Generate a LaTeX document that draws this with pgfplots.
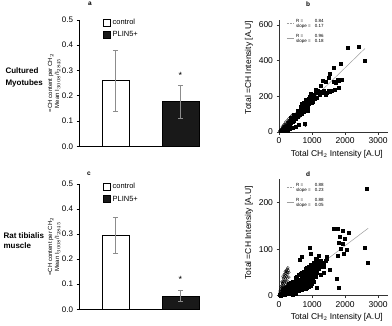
\documentclass[border=0pt]{standalone}
\usepackage{pgfplots}
\pgfplotsset{compat=1.18}
\usepackage{fontspec}
\setmainfont{Liberation Sans}
\definecolor{ebar}{gray}{0.55}
\definecolor{fitgray}{gray}{0.62}
\pgfplotsset{
  baraxis/.style={
    scale only axis, width=121pt, xmin=0, xmax=121, ymin=0, ymax=0.5,
    axis x line*=bottom, axis y line*=left, axis line style={black, line width=0.6pt},
    xtick=\empty, ytick={0,0.1,...,0.5},
    yticklabel style={font=\fontsize{8}{9}\selectfont, /pgf/number format/.cd, fixed, fixed zerofill, precision=1},
    /pgf/number format/assume math mode=true,
    tick align=outside, major tick length=2.5pt, tick style={black, line width=0.6pt},
    clip=false,
    ylabel={=CH content per CH$_2$\\Mean I$_{3008}$/I$_{2845}$},
    ylabel style={at={(axis description cs:-0.205,0.5)}, anchor=center, align=center, font=\fontsize{6}{7}\selectfont},
    legend style={draw=none, fill=none, inner sep=0pt, outer sep=0pt, font=\fontsize{7.5}{8}\selectfont, row sep=1.5pt, cells={anchor=west}},
  },
  scataxis/.style={
    scale only axis, width=109pt, xmin=0, xmax=3300, ymin=0,
    axis x line*=bottom, axis y line*=left, axis line style={black!80, line width=0.7pt},
    xtick={0,1000,2000,3000},
    ticklabel style={font=\fontsize{8.5}{9}\selectfont},
    /pgf/number format/assume math mode=true,
    /pgf/number format/1000 sep={},
    tick align=outside, major tick length=2.5pt, tick style={black!80, line width=0.6pt},
    clip=false,
    xlabel={Total CH$_2$ Intensity [A.U]},
    ylabel={Total =CH Intensity [A.U]},
    label style={font=\fontsize{8.5}{9}\selectfont},
    legend style={draw=none, fill=none, inner sep=0pt, outer sep=0pt, font=\fontsize{4.5}{5}\selectfont, row sep=3pt, cells={anchor=west}},
    legend image code/.code={\draw[#1] (0pt,0pt) -- (7pt,0pt);},
  },
  sq/.style={only marks, mark=square*, mark size=1.5pt, black, mark options={fill=black}, forget plot},
  ci/.style={only marks, mark=o, mark size=1.4pt, black, mark options={fill=white, line width=0.3pt}, forget plot},
}
\begin{document}
\begin{tikzpicture}
\path[use as bounding box] (0,0) rectangle (392pt,325pt);
% row labels and panel letters
\node[anchor=west, align=left, font=\fontsize{8}{11.5}\selectfont\bfseries] at (2pt,247.5pt) {Cultured\\Myotubes};
\node[anchor=west, align=left, font=\fontsize{8}{10}\selectfont\bfseries] at (0pt,84.3pt) {Rat tibialis\\muscle};
\node[font=\fontsize{6.5}{7}\selectfont\bfseries] at (90pt,321pt) {a};
\node[font=\fontsize{6.5}{7}\selectfont\bfseries] at (308pt,321pt) {b};
\node[font=\fontsize{6.5}{7}\selectfont\bfseries] at (89pt,151pt) {c};
\node[font=\fontsize{6.5}{7}\selectfont\bfseries] at (308pt,151pt) {d};

% ---------- panel a ----------
\begin{axis}[baraxis, at={(79pt,178.7pt)}, anchor=south west, height=126.5pt,
  legend style={at={(axis cs:24,0.51)}, anchor=north west}]
\addplot[ybar, bar width=27pt, bar shift=0pt, draw=black, fill=white, line width=0.6pt,
  legend image code/.code={\draw[black, fill=white, line width=0.6pt] (0pt,-3.5pt) rectangle (7pt,3.5pt);},
  error bars/.cd, y dir=both, y explicit, error bar style={ebar, line width=0.6pt},
  error mark options={ebar, line width=0.6pt, mark size=2.5pt, rotate=90}]
  coordinates {(36.5,0.259) +- (0,0.119)};
\addlegendentry{control}
\addplot[ybar, bar width=37pt, bar shift=0pt, draw=black, fill=black!90, line width=0.6pt,
  legend image code/.code={\draw[black, fill=black!90, line width=0.6pt] (0pt,-3.5pt) rectangle (7pt,3.5pt);},
  error bars/.cd, y dir=both, y explicit, error bar style={ebar, line width=0.6pt},
  error mark options={ebar, line width=0.6pt, mark size=2.5pt, rotate=90}]
  coordinates {(101.5,0.176) +- (0,0.065)};
\addlegendentry{PLIN5+}
\node[font=\fontsize{9}{9}\selectfont] at (axis cs:101.5,0.282) {*};
\end{axis}

% ---------- panel c ----------
\begin{axis}[baraxis, at={(79pt,15.7pt)}, anchor=south west, height=125.3pt,
  legend style={at={(axis cs:24,0.51)}, anchor=north west}]
\addplot[ybar, bar width=27pt, bar shift=0pt, draw=black, fill=white, line width=0.6pt,
  legend image code/.code={\draw[black, fill=white, line width=0.6pt] (0pt,-3.5pt) rectangle (7pt,3.5pt);},
  error bars/.cd, y dir=both, y explicit, error bar style={ebar, line width=0.6pt},
  error mark options={ebar, line width=0.6pt, mark size=2.5pt, rotate=90}]
  coordinates {(36.5,0.295) +- (0,0.073)};
\addlegendentry{control}
\addplot[ybar, bar width=37pt, bar shift=0pt, draw=black, fill=black!90, line width=0.6pt,
  legend image code/.code={\draw[black, fill=black!90, line width=0.6pt] (0pt,-3.5pt) rectangle (7pt,3.5pt);},
  error bars/.cd, y dir=both, y explicit, error bar style={ebar, line width=0.6pt},
  error mark options={ebar, line width=0.6pt, mark size=2.5pt, rotate=90}]
  coordinates {(101.5,0.053) +- (0,0.023)};
\addlegendentry{PLIN5+}
\node[font=\fontsize{9}{9}\selectfont] at (axis cs:101.5,0.121) {*};
\end{axis}

% ---------- panel b ----------
\begin{axis}[scataxis, at={(279pt,193pt)}, anchor=south west, height=112.3pt, ymax=630,
  ytick={0,200,400,600},
  ylabel style={at={(axis description cs:-0.275,0.573)}, anchor=center},
  xlabel style={at={(axis description cs:0.53,-0.196)}, anchor=center},
  legend style={at={(rel axis cs:0.07,1.02)}, anchor=north west}]
\addplot[fitgray, densely dotted, line width=0.5pt] coordinates {(0,0) (800,136)};
\addlegendentry{\begin{tabular}{@{}l@{\hspace{4pt}}l@{}}R = & 0.84\\ slope = & 0.17\end{tabular}}
\addplot[fitgray, line width=0.5pt] coordinates {(0,0) (2600,468)};
\addlegendentry{\begin{tabular}{@{}l@{\hspace{4pt}}l@{}}R = & 0.96\\ slope = & 0.18\end{tabular}}
\addplot[sq] coordinates {
(2090,474)(2400,481)(2600,400)(1860,385)(1670,363)(1550,326)(1490,307)(1320,285)(1420,283)
(1770,293)(1730,278)(1810,285)(1600,233)(1700,237)(1530,228)(1440,222)(1360,233)(1170,233)
(1240,226)(1110,219)(1220,210)(1060,212)(1000,200)(1150,190)(1080,185)(960,190)(930,175)
(990,165)(900,160)(860,170)(840,150)(880,140)(800,155)(760,145)(780,130)(720,140)(700,125)
(740,115)(660,120)(640,110)(680,100)(600,105)(620,95)(560,100)(580,85)(540,90)(520,80)
(500,75)(480,90)(460,70)(440,65)(420,75)(400,60)(380,55)(360,65)(340,50)(320,45)(300,40)
(280,50)(260,35)(240,30)(220,25)(200,20)(180,30)(160,15)(140,20)(120,10)(100,12)(80,5)
(60,8)(515,30)(773,48)(310,18)(250,8)(400,25)(200,5)(600,40)(1250,260)(1100,240)(950,215)
(820,180)(700,160)(650,140)(1020,170)(860,120)(1500,230)(1650,280)(1900,295)(1800,250)
(1400,210)(1300,220)(900,185)(1050,195)(760,165)(560,118)(460,95)(350,80)(940,200)};
\addplot[ci] coordinates {
(20,5)(40,10)(50,3)(60,15)(80,8)(90,20)(100,14)(110,25)(130,18)(140,30)(150,22)(160,35)
(170,28)(180,40)(200,33)(210,45)(220,38)(240,50)(250,42)(260,55)(280,48)(290,62)(300,53)
(320,67)(330,58)(350,72)(360,62)(380,78)(400,68)(410,84)(430,74)(450,90)(460,80)(480,95)
(500,86)(520,102)(540,92)(560,108)(580,98)(600,115)(620,104)(640,120)(660,110)(700,125)
(100,30)(150,42)(200,55)(250,65)(300,75)(350,85)(400,95)(120,5)(200,15)(280,25)(360,35)
(780,45)(800,38)(450,60)(550,75)(650,90)};
\end{axis}

% ---------- panel d ----------
\begin{axis}[scataxis, at={(279pt,29.3pt)}, anchor=south west, height=116.3pt, ymax=250,
  ytick={0,100,200},
  ylabel style={at={(axis description cs:-0.275,0.54)}, anchor=center},
  xlabel style={at={(axis description cs:0.53,-0.183)}, anchor=center},
  legend style={at={(rel axis cs:0.07,0.985)}, anchor=north west}]
\addplot[fitgray, densely dotted, line width=0.5pt] coordinates {(0,0) (280,64)};
\addlegendentry{\begin{tabular}{@{}l@{\hspace{4pt}}l@{}}R = & 0.88\\ slope = & 0.23\end{tabular}}
\addplot[fitgray, line width=0.5pt] coordinates {(0,0) (2700,145)};
\addlegendentry{\begin{tabular}{@{}l@{\hspace{4pt}}l@{}}R = & 0.88\\ slope = & 0.05\end{tabular}}
\addplot[sq] coordinates {
(30,2)(50,4)(60,1)(80,5)(90,3)(100,6)(110,2)(120,8)(130,4)(140,7)(150,10)(160,3)(170,9)
(180,6)(190,12)(200,5)(210,11)(220,8)(230,14)(240,4)(250,10)(260,13)(270,7)(280,16)(290,11)
(300,6)(310,15)(320,18)(330,9)(340,13)(350,20)(360,8)(370,17)(380,12)(390,22)(400,15)
(410,10)(420,19)(430,24)(440,14)(450,18)(460,26)(470,12)(480,21)(490,16)(500,28)(510,19)
(520,24)(530,13)(540,30)(550,22)(560,17)(570,27)(580,33)(590,20)(600,25)(610,29)(620,15)
(630,35)(640,23)(650,31)(660,19)(670,27)(680,38)(690,22)(700,33)(710,28)(720,41)(730,18)
(740,30)(750,36)(760,25)(770,44)(780,32)(790,22)(800,39)(810,29)(820,47)(830,35)(840,26)
(850,42)(860,33)(870,50)(880,38)(890,28)(900,45)(910,36)(920,53)(930,41)(940,31)(950,48)
(960,58)(970,38)(980,44)(990,62)(1000,50)(1010,35)(1020,55)(1030,45)(1040,66)(1050,52)
(1060,40)(1070,58)(1080,48)(1090,63)(1100,55)(1120,68)(1140,50)(1160,60)(1180,72)(1200,58)
(1220,65)(1250,75)(1280,62)(1300,70)(1350,68)(1400,75)
(250,20)(350,5)(450,8)(550,10)(650,12)(750,15)(850,18)(950,22)(400,30)(500,38)(600,45)
(700,50)(800,58)(900,62)(300,25)(200,18)(150,16)(100,12)(600,10)(700,12)(820,14)(900,20)
(1000,25)(1100,40)(500,5)(420,3)(350,28)(550,40)(650,48)(750,52)(850,60)(950,66)(1050,72)
(1670,145)(1770,143)(1920,139)(2120,135)(1835,126)(1995,123)(1814,113)(1938,112)(1876,101)
(2041,98)(1959,91)(1773,85)(2600,103)(2680,72)(2650,231)(928,104)(969,91)(701,84)(639,78)
(1443,84)(1546,55)(1753,37)(1794,18)(1155,17)(1340,63)(1237,70)(1100,80)(1200,85)(1150,78)
(1450,80)(1350,50)(1250,45)(1050,30)};
\addplot[ci] coordinates {
(20,5)(30,10)(40,6)(50,14)(60,9)(70,18)(80,12)(90,22)(100,16)(110,26)(120,19)(130,30)
(140,23)(150,35)(160,27)(170,40)(180,31)(190,44)(200,36)(210,48)(220,40)(230,52)(240,45)
(250,57)(260,50)(270,60)(280,55)(50,3)(80,6)(110,10)(140,14)(170,20)(200,25)(230,30)
(260,38)(100,28)(130,38)(160,46)(190,52)(60,20)(90,30)(120,42)(220,55)(30,2)(150,8)
(180,12)(210,18)(240,22)(270,30)(300,40)(300,50)};
\end{axis}
\end{tikzpicture}
\end{document}
